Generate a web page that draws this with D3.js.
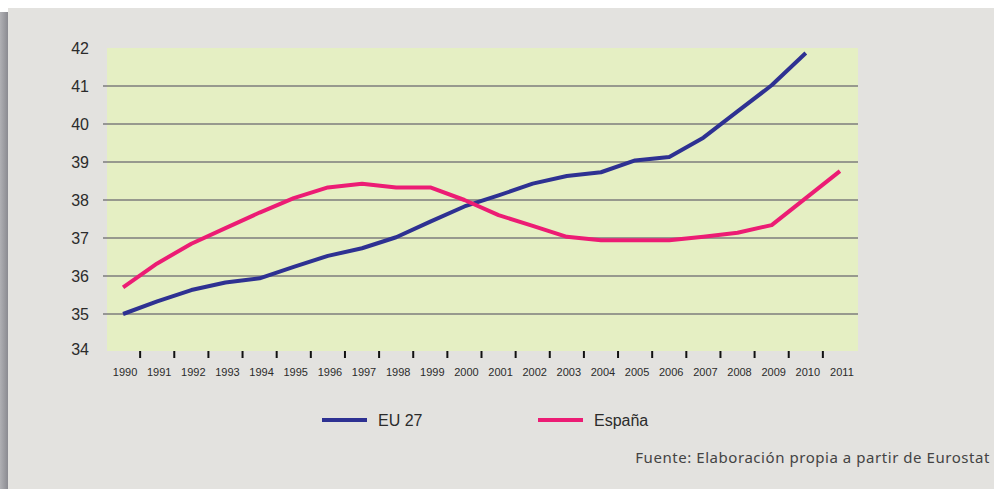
<!DOCTYPE html>
<html>
<head>
<meta charset="utf-8">
<script src="https://cdn.jsdelivr.net/npm/d3@7"></script>
<style>
  body { margin: 0; background: #ffffff; }
  svg { display: block; }
</style>
</head>
<body>
<div id="chart"></div>
<script>
// data
var years = ["1990","1991","1992","1993","1994","1995","1996","1997","1998","1999","2000",
             "2001","2002","2003","2004","2005","2006","2007","2008","2009","2010","2011"];
var eu27 = [35.0, 35.33, 35.63, 35.83, 35.94, 36.24, 36.53, 36.73, 37.02, 37.43, 37.83,
            38.12, 38.43, 38.63, 38.73, 39.04, 39.13, 39.64, 40.33, 41.02, 41.87, null];
var espana = [35.7, 36.33, 36.85, 37.26, 37.67, 38.05, 38.33, 38.43, 38.33, 38.33, 38.0,
              37.6, 37.32, 37.03, 36.94, 36.94, 36.94, 37.03, 37.14, 37.34, 38.05, 38.76];
var yTicks = [34, 35, 36, 37, 38, 39, 40, 41, 42];
var seriesNames = ["EU 27", "España"];
var seriesColors = ["#2e3192", "#ec1c74"];

var svgWidth = 994;
var svgHeight = 489;

var svg = d3.select("#chart")
  .append("svg")
  .attr("width", svgWidth)
  .attr("height", svgHeight);

// panel + left shadow
var grad = svg.append("defs").append("linearGradient")
  .attr("id", "shadow").attr("x1", 0).attr("x2", 1);
grad.append("stop").attr("offset", "0%").attr("stop-color", "#b0b0b4");
grad.append("stop").attr("offset", "100%").attr("stop-color", "#86868c");
svg.append("rect").attr("x", 0).attr("y", 12).attr("width", 9).attr("height", svgHeight - 12)
  .attr("fill", "url(#shadow)");
svg.append("rect").attr("x", 8).attr("y", 8).attr("width", svgWidth - 8).attr("height", svgHeight - 8)
  .attr("fill", "#e3e2df");

// plot area
var plot = { left: 106, right: 857, top: 48, bottom: 352 };

var xScale = d3.scaleBand()
  .domain(years)
  .range([plot.left, plot.right]);

var yScale = d3.scaleLinear()
  .domain([34, 42])
  .range([plot.bottom, plot.top]);

svg.append("rect")
  .attr("x", plot.left + 1)
  .attr("y", plot.top)
  .attr("width", plot.right - plot.left)
  .attr("height", plot.bottom - plot.top - 1)
  .attr("fill", "#e5efc3");

// gridlines (35..41)
svg.selectAll(".grid")
  .data(yTicks.slice(1, -1))
  .enter()
  .append("line")
  .attr("x1", plot.left - 3)
  .attr("x2", plot.right + 1)
  .attr("y1", d => yScale(d))
  .attr("y2", d => yScale(d))
  .attr("stroke", "#7d7d7d")
  .attr("stroke-width", 1.5);

// y labels
svg.selectAll(".ylab")
  .data(yTicks)
  .enter()
  .append("text")
  .attr("x", 89)
  .attr("y", d => yScale(d) - (d === 34 ? 3 : 0))
  .attr("dy", "0.35em")
  .style("font-family", "Liberation Sans, Arial, sans-serif")
  .style("font-size", "16px")
  .style("text-anchor", "end")
  .style("fill", "#2b2b2b")
  .text(d => d);

// x ticks between categories
svg.selectAll(".xtick")
  .data(years.slice(1))
  .enter()
  .append("line")
  .attr("x1", d => xScale(d))
  .attr("x2", d => xScale(d))
  .attr("y1", plot.bottom - 1)
  .attr("y2", plot.bottom + 6)
  .attr("stroke", "#111")
  .attr("stroke-width", 2);

svg.selectAll(".xlab")
  .data(years)
  .enter()
  .append("text")
  .attr("x", d => xScale(d) + xScale.bandwidth() / 2 + 2)
  .attr("y", 376)
  .style("font-family", "Liberation Sans, Arial, sans-serif")
  .style("font-size", "11px")
  .style("text-anchor", "middle")
  .style("fill", "#2b2b2b")
  .text(d => d);

// lines
var lineGen = d3.line()
  .defined(d => d.v != null)
  .x(d => xScale(d.year) + xScale.bandwidth() / 2)
  .y(d => yScale(d.v));

[eu27, espana].forEach(function (vals, i) {
  var pts = years.map((y, j) => ({ year: y, v: vals[j] }));
  svg.append("path")
    .datum(pts)
    .attr("d", lineGen)
    .attr("fill", "none")
    .attr("stroke", seriesColors[i])
    .attr("stroke-width", 4)
    .attr("stroke-linejoin", "round");
});

// legend
var legendX = [322, 538];
seriesNames.forEach(function (name, i) {
  svg.append("line")
    .attr("x1", legendX[i]).attr("x2", legendX[i] + 45)
    .attr("y1", 420).attr("y2", 420)
    .attr("stroke", seriesColors[i])
    .attr("stroke-width", 4);
  svg.append("text")
    .attr("x", legendX[i] + 56)
    .attr("y", 426)
    .style("font-family", "Liberation Sans, Arial, sans-serif")
    .style("font-size", "16px")
    .style("fill", "#2b2b2b")
    .text(name);
});

// source
svg.append("text")
  .attr("x", 990)
  .attr("y", 463)
  .style("font-family", "Noto Sans, sans-serif")
  .style("font-size", "15px")
  .style("letter-spacing", "0.55px")
  .style("text-anchor", "end")
  .style("fill", "#444")
  .text("Fuente: Elaboración propia a partir de Eurostat");
</script>
</body>
</html>
